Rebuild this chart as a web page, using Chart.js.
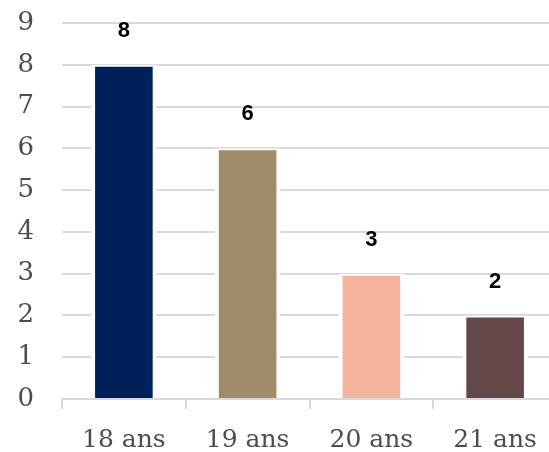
<!DOCTYPE html>
<html><head><meta charset="utf-8">
<script src="https://cdn.jsdelivr.net/npm/chart.js@4/dist/chart.umd.min.js"></script>
<style>
html,body{margin:0;padding:0;background:#fff;overflow:hidden;}
#wrap{position:relative;width:557px;height:452px;}
</style></head>
<body><div id="wrap"><canvas id="c"></canvas></div>
<script>
const categories = ["18 ans", "19 ans", "20 ans", "21 ans"];
const values = [8, 6, 3, 2];
const barColors = ["#00205B", "#A08B6B", "#F4B39C", "#634749"];
const yTicks = [0,1,2,3,4,5,6,7,8,9];

const labelPlugin = {
  id: 'vals',
  afterDatasetsDraw(chart) {
    const ctx = chart.ctx;
    const meta = chart.getDatasetMeta(0);
    ctx.save();
    ctx.font = 'bold 22px "Liberation Sans", Arial, sans-serif';
    ctx.fillStyle = '#000';
    ctx.textAlign = 'center';
    ctx.textBaseline = 'middle';
    meta.data.forEach((bar, i) => {
      ctx.fillText(String(values[i]), bar.x, bar.y - 34);
    });
    ctx.restore();
  }
};

new Chart(document.getElementById('c'), {
  type: 'bar',
  data: {
    labels: categories,
    datasets: [{
      data: values,
      backgroundColor: barColors,
      borderColor: '#ffffff',
      borderWidth: { left: 4, right: 4, top: 2, bottom: 0 },
      barPercentage: 0.53,
      categoryPercentage: 1.0
    }]
  },
  options: {
    responsive: true,
    maintainAspectRatio: false,
    animation: false,
    layout: { padding: { top: 23, right: 0, left: 0, bottom: 0 } },
    plugins: { legend: { display: false }, tooltip: { enabled: false } },
    scales: {
      x: {
        grid: { display: true, drawOnChartArea: false, drawTicks: true, tickLength: 10, color: '#d9d9d9', lineWidth: 2, offset: true },
        border: { display: true, color: '#d9d9d9', width: 2 },
        ticks: { color: '#4d4d4d', font: { family: '"DejaVu Serif", serif', size: 25 }, padding: 16, maxRotation: 0 },
        afterFit(s) { s.height = 53; }
      },
      y: {
        min: 0, max: 9,
        afterBuildTicks(s) { s.ticks = yTicks.map(v => ({ value: v })); },
        grid: { color: '#d9d9d9', lineWidth: 2, drawTicks: false },
        border: { display: false },
        ticks: { color: '#4d4d4d', font: { family: '"DejaVu Serif", serif', size: 26 }, padding: 28 },
        afterFit(s) { s.width = 62; s.paddingTop = 0; s.paddingBottom = 0; }
      }
    }
  },
  plugins: [labelPlugin]
});
</script></body></html>
